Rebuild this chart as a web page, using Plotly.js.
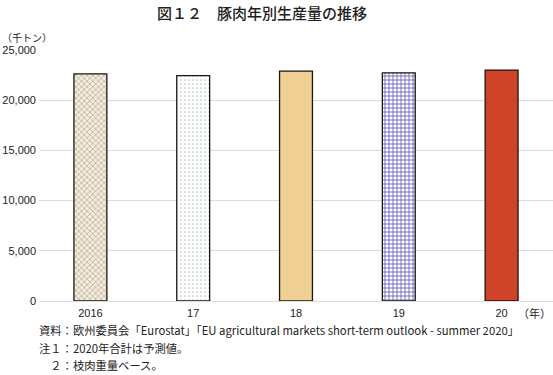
<!DOCTYPE html>
<html><head><meta charset="utf-8">
<script src="https://cdn.plot.ly/plotly-3.0.1.min.js"></script>
<style>html,body{margin:0;padding:0;background:#fff}#c{width:553px;height:375px}</style>
</head><body><div id="c"></div>
<script>
const categories = ['2016', '17', '18', '19', '20'];
const production = [22630, 22440, 22900, 22730, 23000];
const yTicks = [0, 5000, 10000, 15000, 20000, 25000];
const yTickLabels = ['0', '5,000', '10,000', '15,000', '20,000', '25,000'];

const jp = '"Noto Sans CJK JP", "Liberation Sans", sans-serif';
const num = '"Liberation Sans", Arial, sans-serif';

const barStyles = [
  {color: '#efe9dc', shape: 'x', fg: '#c9b999', bg: '#f1ece2', size: 4, solidity: 0.4},
  {color: '#ffffff', shape: '.', fg: '#b4c4cc', bg: '#ffffff', size: 4, solidity: 0.15},
  {color: '#efcf94', shape: '', fg: '#efcf94', bg: '#efcf94', size: 4, solidity: 0.3},
  {color: '#ffffff', shape: '+', fg: '#6666bb', bg: '#ffffff', size: 4, solidity: 0.4},
  {color: '#cf4428', shape: '', fg: '#cf4428', bg: '#cf4428', size: 4, solidity: 0.3}
];

const traces = categories.map((c, i) => {
  const s = barStyles[i];
  const marker = {color: s.color, line: {color: '#1e1410', width: 1.3}};
  if (s.shape) {
    marker.pattern = {shape: s.shape, fgcolor: s.fg, bgcolor: s.bg, size: s.size, solidity: s.solidity, fillmode: 'replace'};
  }
  return {type: 'bar', x: [c], y: [production[i]], marker: marker, hoverinfo: 'none'};
});

const layout = {
  width: 553, height: 375,
  margin: {l: 39, r: 0, t: 50, b: 74},
  paper_bgcolor: '#fff', plot_bgcolor: '#fff',
  barmode: 'overlay',
  bargap: 0.68,
  showlegend: false,
  xaxis: {
    type: 'category', categoryorder: 'array', categoryarray: categories,
    showgrid: false, zeroline: false, showline: false,
    ticks: '', tickfont: {family: num, size: 11, color: '#222'},
    ticklabelstandoff: 4
  },
  yaxis: {
    range: [0, 25000],
    tickvals: yTicks, ticktext: yTickLabels,
    showgrid: true, gridcolor: '#dcdcdc', gridwidth: 1,
    zeroline: true, zerolinecolor: '#dcdcdc', zerolinewidth: 1,
    showline: false, ticks: '',
    tickfont: {family: num, size: 11, color: '#222'},
    ticklabelstandoff: 2
  },
  annotations: [
    {text: '図１２　豚肉年別生産量の推移', xref: 'paper', yref: 'paper', x: 0.433, y: 1, yshift: 38, xanchor: 'center', yanchor: 'middle', showarrow: false, font: {family: jp, size: 15, color: '#222', weight: 500}},
    {text: '（千トン）', xref: 'paper', yref: 'paper', x: 0, xshift: -39, y: 1, yshift: 13, xanchor: 'left', yanchor: 'middle', showarrow: false, font: {family: jp, size: 10, color: '#222'}},
    {text: '（年）', xref: 'paper', yref: 'paper', x: 1, y: 0, yshift: -12, xanchor: 'right', yanchor: 'middle', showarrow: false, font: {family: jp, size: 11, color: '#222'}},
    {text: '資料：欧州委員会「Eurostat」「EU agricultural markets short-term outlook - summer 2020」', xref: 'paper', yref: 'paper', x: 0, xshift: -2, y: 0, yshift: -29, xanchor: 'left', yanchor: 'middle', showarrow: false, font: {family: jp, size: 11.3, color: '#222'}},
    {text: '注１：2020年合計は予測値。', xref: 'paper', yref: 'paper', x: 0, xshift: -2, y: 0, yshift: -47, xanchor: 'left', yanchor: 'middle', showarrow: false, font: {family: jp, size: 11.3, color: '#222'}},
    {text: '　２：枝肉重量ベース。', xref: 'paper', yref: 'paper', x: 0, xshift: -2, y: 0, yshift: -64, xanchor: 'left', yanchor: 'middle', showarrow: false, font: {family: jp, size: 11.3, color: '#222'}}
  ]
};

Plotly.newPlot('c', traces, layout, {staticPlot: true, displayModeBar: false});
</script></body></html>
